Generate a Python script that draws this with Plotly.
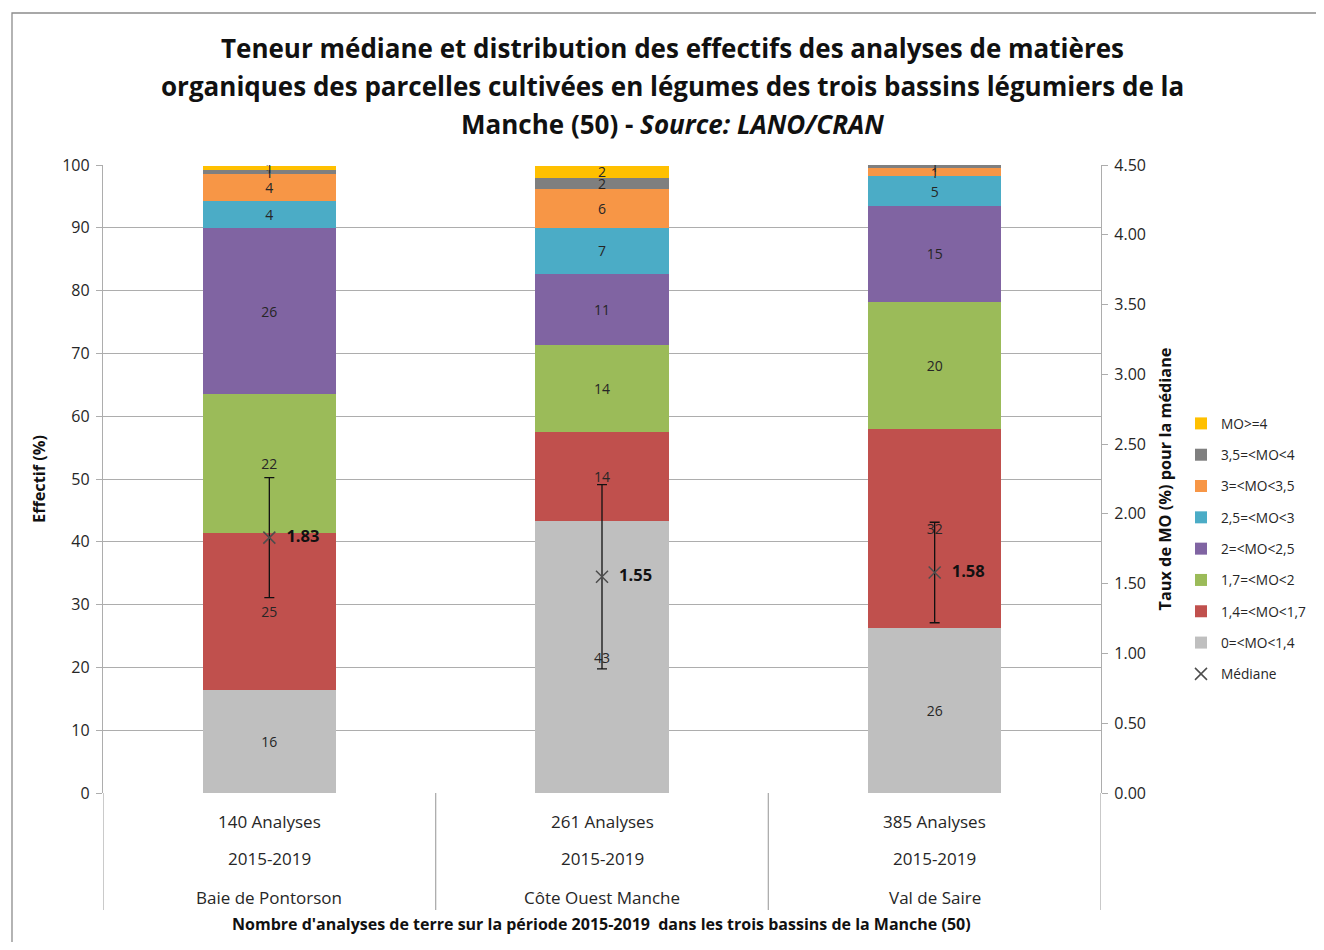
import plotly.graph_objects as go

# ---------------- data ----------------
basins = ["Baie de Pontorson", "Côte Ouest Manche", "Val de Saire"]
n_analyses = ["140 Analyses", "261 Analyses", "385 Analyses"]
periods = ["2015-2019", "2015-2019", "2015-2019"]

class_names = ["0=<MO<1,4", "1,4=<MO<1,7", "1,7=<MO<2", "2=<MO<2,5",
               "2,5=<MO<3", "3=<MO<3,5", "3,5=<MO<4", "MO>=4"]
pct_0_14 = [16.4, 43.3, 26.2]
pct_14_17 = [25.0, 14.2, 31.8]
pct_17_2 = [22.1, 13.8, 20.2]
pct_2_25 = [26.4, 11.4, 15.3]
pct_25_3 = [4.3, 7.3, 4.7]
pct_3_35 = [4.3, 6.1, 1.3]
pct_35_4 = [0.7, 1.9, 0.5]
pct_4 = [0.7, 1.9, 0.0]

medians = [1.83, 1.55, 1.58]
median_err = [0.43, 0.66, 0.36]

class_colors = ["#BFBFBF", "#C0504D", "#9BBB59", "#8064A2",
                "#4BACC6", "#F79646", "#7F7F7F", "#FFC000"]

series = [pct_0_14, pct_14_17, pct_17_2, pct_2_25, pct_25_3, pct_3_35, pct_35_4, pct_4]

FONT = "Open Sans"
TXT = "#262626"
GRID = "#ADADAD"

# page offset (body margin of the html page)
OFF = 8
W, H = 1324 - OFF, 950 - 2 * OFF
# plot area in page pixels
PL, PR, PT, PB = 103, 1101, 165, 793
L, R, T, B = PL - OFF, PR - OFF, PT - OFF, PB - OFF
pw, ph = R - L, B - T


def px_x(p):
    return (p - PL) / pw


def px_y(p):
    return (PB - p) / ph


fig = go.Figure()

n_cls = len(class_names)
for i, (name, vals, col) in enumerate(zip(class_names, series, class_colors)):
    labels = [str(int(v + 0.5)) if v > 0 else "" for v in vals]
    fig.add_trace(go.Bar(
        x=basins, y=vals, name=name, marker=dict(color=col, line=dict(width=0)),
        text=labels, textposition="inside", insidetextanchor="middle",
        textfont=dict(family=FONT, size=14, color=TXT), textangle=0,
        width=0.4, legendrank=100 + (n_cls - i), legendgroup=name,
        hoverinfo="skip"))

fig.add_trace(go.Scatter(
    x=basins, y=medians, yaxis="y2", name="Médiane", mode="markers+text",
    marker=dict(symbol="x-thin", size=12, line=dict(width=1.5, color="#4D4D4D"), color="#4D4D4D"),
    error_y=dict(type="data", array=median_err, visible=True, color="#111111", thickness=1.3, width=5),
    text=[f"  {m:.2f}" for m in medians], textposition="middle right",
    textfont=dict(family=FONT, size=16.5, color="#111111", weight="bold"),
    legendrank=200, legendgroup="Médiane", hoverinfo="skip"))

# title lines
title_lines = ["Teneur médiane et distribution des effectifs des analyses de matières",
               "organiques des parcelles cultivées en légumes des trois bassins légumiers de la",
               "Manche (50) - <i>Source: LANO/CRAN</i>"]

annotations = []
for line, ypx in zip(title_lines, [48, 86, 124]):
    annotations.append(dict(text=f"<b>{line}</b>", x=px_x(672), y=px_y(ypx), xref="paper", yref="paper",
                            showarrow=False, xanchor="center", yanchor="middle",
                            font=dict(family=FONT, size=26, color="#111111")))

for labs, ypx in zip([n_analyses, periods, basins], [821, 858, 897]):
    for b, lab in zip(basins, labs):
        annotations.append(dict(text=lab, x=b, y=px_y(ypx), xref="x", yref="paper", showarrow=False,
                                xanchor="center", yanchor="middle",
                                font=dict(family=FONT, size=17, color=TXT)))

annotations.append(dict(text="<b>Nombre d'analyses de terre sur la période 2015-2019  dans les trois bassins de la Manche (50)</b>",
                        x=px_x(601), y=px_y(924), xref="paper", yref="paper", showarrow=False,
                        xanchor="center", yanchor="middle", font=dict(family=FONT, size=16, color="#111111")))

shapes = []
for xb in [-0.5, 0.5, 1.5, 2.5]:
    shapes.append(dict(type="line", xref="x", yref="paper", x0=xb, x1=xb, y0=0, y1=px_y(910),
                       line=dict(color=GRID, width=1.3)))
# outer chart border
shapes.append(dict(type="rect", xref="paper", yref="paper", x0=px_x(12), x1=px_x(1340),
                   y0=px_y(970), y1=px_y(13), line=dict(color="#8C8C8C", width=1.3), layer="below"))

fig.update_layout(
    width=W, height=H,
    margin=dict(l=L, r=W - R, t=T, b=H - B, pad=0),
    paper_bgcolor="white", plot_bgcolor="white",
    barmode="stack",
    font=dict(family=FONT, size=14, color=TXT),
    uniformtext=dict(minsize=14, mode="show"),
    showlegend=True,
    legend=dict(x=px_x(1181), y=px_y(408), xanchor="left", yanchor="top", traceorder="grouped",
                tracegroupgap=10.5, font=dict(family=FONT, size=13.7, color=TXT),
                itemwidth=30, bgcolor="rgba(0,0,0,0)", borderwidth=0),
    xaxis=dict(type="category", range=[-0.5, 2.5], showticklabels=False, ticks="",
               showgrid=False, showline=False, zeroline=False),
    yaxis=dict(range=[0, 100], dtick=10, showgrid=True, gridcolor=GRID, gridwidth=1.2,
               showline=True, linecolor=GRID, linewidth=1.3, ticks="outside", ticklen=6,
               tickcolor=GRID, zeroline=False, ticklabelstandoff=3,
               tickfont=dict(family=FONT, size=16, color=TXT),
               title=dict(text="<b>Effectif (%)</b>", font=dict(family=FONT, size=16.3, color="#111111"),
                          standoff=12)),
    yaxis2=dict(range=[0, 4.5], dtick=0.5, tickformat=".2f", overlaying="y", side="right",
                showgrid=False, showline=True, linecolor=GRID, linewidth=1.3, ticks="outside",
                ticklen=6, tickcolor=GRID, zeroline=False, ticklabelstandoff=3,
                tickfont=dict(family=FONT, size=16, color=TXT),
                title=dict(text="<b>Taux de MO (%) pour la médiane</b>",
                           font=dict(family=FONT, size=16.3, color="#111111"), standoff=14)),
    annotations=annotations,
    shapes=shapes,
)

fig.write_html("out.html")
